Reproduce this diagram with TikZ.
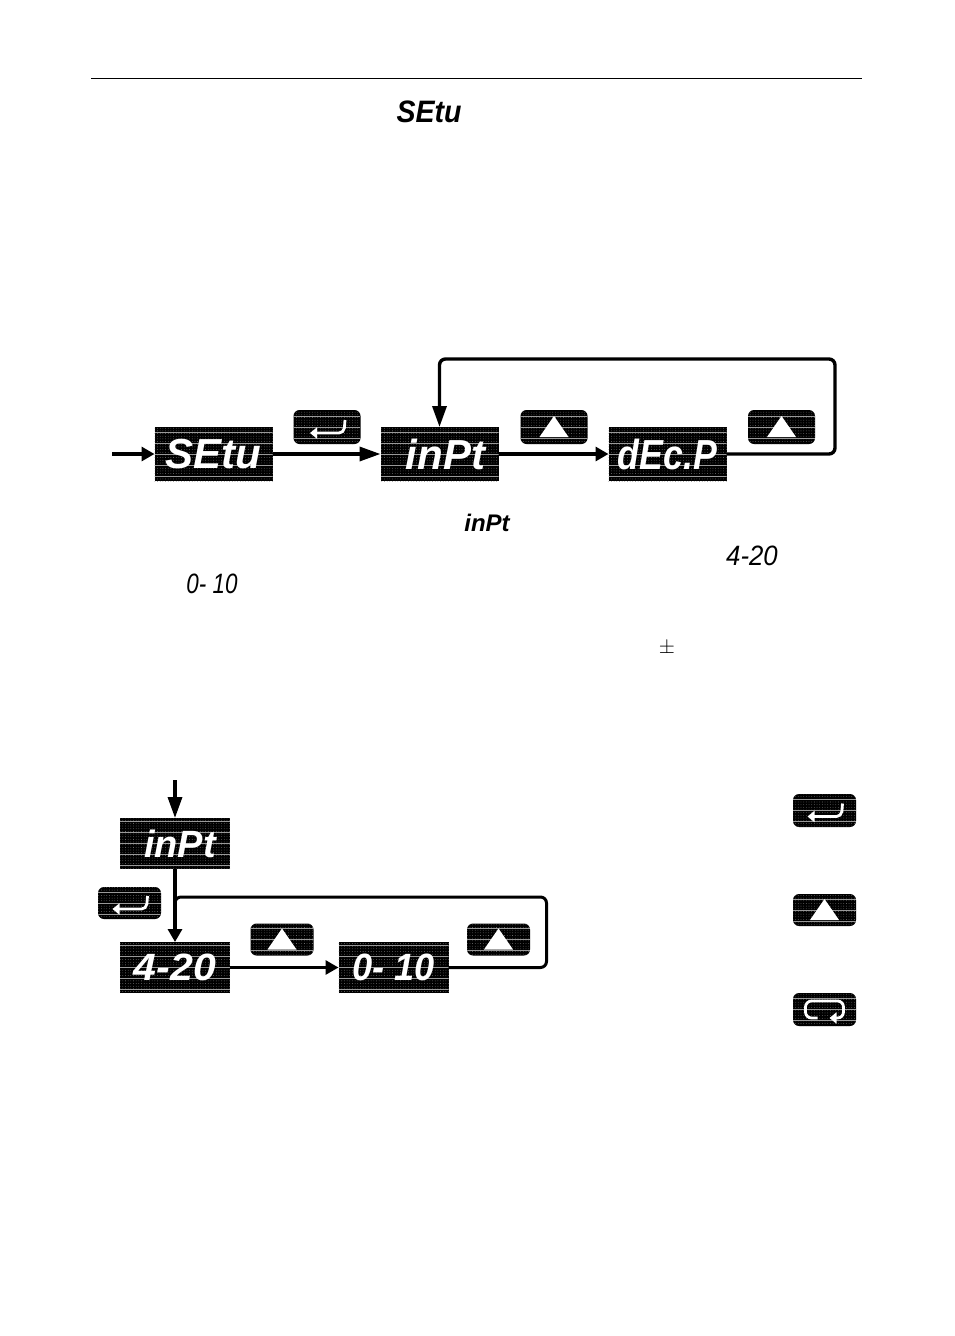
\documentclass[tikz,border=0pt]{standalone}
\usepackage{fontspec}
\usepackage{tikz}
\usetikzlibrary{positioning}
\usetikzlibrary{arrows.meta}
\usetikzlibrary{patterns.meta}
\newfontfamily\ledfont{Liberation Sans Bold Italic}
\newfontfamily\ledthin{Liberation Sans Italic}
% dots and pale rows of the panels
\newcommand{\ledtexture}{
    \fill[sharp corners,pattern={Dots[radius=0.4pt,distance=2.67pt]},pattern color=white!50!black] (path picture bounding box.south west) rectangle (path picture bounding box.north east);
    \foreach \i in {-2,-1,0,1,2}
        \draw[white!60!black,line width=0.7pt] ([yshift=\i*11pt]path picture bounding box.west) -- ([yshift=\i*11pt]path picture bounding box.east);
}
\tikzstyle{display} = [rectangle, fill=black, text=white, inner sep=0pt, outer sep=0pt, minimum width=118pt, minimum height=54pt, font=\ledfont\fontsize{42}{42}\selectfont, path picture={\ledtexture}]
\tikzstyle{displaysmall} = [display, minimum width=110pt, minimum height=51pt, font=\ledfont\fontsize{38}{38}\selectfont]
\tikzstyle{keybase} = [rectangle, rounded corners=6pt, fill=black, inner sep=0pt, outer sep=0pt, minimum width=67pt, minimum height=34pt]
\tikzstyle{keyenter} = [keybase, path picture={\ledtexture
    \draw[white,line width=2.8pt,-{Triangle[length=7pt,width=11pt]},rounded corners=5pt] ([shift={(18pt,7pt)}]path picture bounding box.center) -- ([shift={(17pt,-6pt)}]path picture bounding box.center) -- ([shift={(-17pt,-6pt)}]path picture bounding box.center);}]
\tikzstyle{keyup} = [keybase, path picture={\ledtexture
    \fill[white,sharp corners] ([shift={(0pt,11pt)}]path picture bounding box.center) -- ([shift={(14.5pt,-10pt)}]path picture bounding box.center) -- ([shift={(-14.5pt,-10pt)}]path picture bounding box.center) -- cycle;}]
\tikzstyle{keyloop} = [keybase, path picture={\ledtexture
    \draw[white,line width=2.8pt,-{Triangle[length=7pt,width=11pt]},rounded corners=6pt] ([shift={(-7pt,-8.5pt)}]path picture bounding box.center) -- ([shift={(-19pt,-8.5pt)}]path picture bounding box.center) -- ([shift={(-19pt,8.5pt)}]path picture bounding box.center) -- ([shift={(19pt,8.5pt)}]path picture bounding box.center) -- ([shift={(19pt,-8.5pt)}]path picture bounding box.center) -- ([shift={(5pt,-8.5pt)}]path picture bounding box.center);}]
\tikzstyle{inline} = [inner sep=0pt, outer sep=0pt, text=black]
\tikzstyle{arrow} = [line width=3.4pt,-{Triangle[length=21pt,width=14pt]}]
\tikzstyle{shortarrow} = [line width=3.2pt,-{Triangle[length=13pt,width=14pt]}]
\tikzstyle{backline} = [line width=3pt,rounded corners=6pt]
\begin{document}
\begin{tikzpicture}[x=1pt,y=-1pt]
    \useasboundingbox (0,0) rectangle (954,1336);

    \coordinate (ruleleft) at (91,78);
    \coordinate (ruleright) at (862,78);
    \draw[line width=1pt] (ruleleft) -- (ruleright);

    \node (setu_word) [inline, font=\ledfont\fontsize{31}{31}\selectfont] at (429,112) {\scalebox{0.92}[1]{SEtu}};
    \node (inpt_word) [inline, font=\ledfont\fontsize{24}{24}\selectfont] at (487,523) {inPt};
    \node (range_word) [inline, font=\ledthin\fontsize{28}{28}\selectfont] at (752,556) {\scalebox{0.92}[1]{4-20}};
    \node (volt_word) [inline, font=\ledthin\fontsize{28}{28}\selectfont] at (212,584) {\scalebox{0.8}[1]{0- 10}};
    \node (pm_word) [inline, font=\fontsize{21}{21}\selectfont] at (667,648) {$\pm$};

    % upper row
    \node (setu) [display] at (213.5,454) {SEtu};
    \node (inpt) [display, right=108pt of setu] {\hspace{12pt}inPt};
    \node (decp) [display, right=110pt of inpt] {\scalebox{0.85}[1]{dEc.P}};
    \node (key_enter) [keyenter] at (327,427) {};
    \node (key_up) [keyup] at (554,427) {};
    \node (key_back) [keyup] at (781.5,427) {};

    \coordinate (entry) at (112,454);
    \coordinate (loop_top) at (835,359);
    \draw [shortarrow] (entry) -- (setu);
    \draw [arrow] (setu) -- (inpt);
    \draw [shortarrow] (inpt) -- (decp);
    \draw [arrow, rounded corners=6pt] (decp) -| (loop_top) -| (inpt);

    % lower row
    \node (input) [displaysmall] at (175,843.5) {\hspace{10pt}inPt};
    \node (range) [displaysmall] at (175,967.5) {\scalebox{1.08}[1]{4-20}};
    \node (volt) [displaysmall, right=108.5pt of range] {\scalebox{0.95}[1]{0- 10}};
    \node (key_next) [keyenter, minimum width=63pt, minimum height=32pt] at (129.5,903) {};
    \node (key_low) [keyup, minimum width=63pt, minimum height=32pt] at (282,939.5) {};
    \node (key_high) [keyup, minimum width=63pt, minimum height=32pt] at (498.5,939.5) {};

    \coordinate (start) at (175,780);
    \coordinate (loop_low) at (546.5,897);
    \coordinate (merge) at (175,917);
    \draw [arrow] (start) -- (input);
    \draw [shortarrow] (input) -- (range);
    \draw [shortarrow, line width=3pt] (range) -- (volt);
    \draw [backline] (volt) -| (loop_low) -- (loop_low -| merge) -- (merge);

    % keys on the right
    \node (side_enter) [keyenter, minimum width=63pt, minimum height=33pt] at (824.5,810.5) {};
    \node (side_up) [keyup, minimum width=63pt, minimum height=32pt] at (824.5,910) {};
    \node (side_loop) [keyloop, minimum width=63pt, minimum height=33pt] at (824.5,1009.5) {};
\end{tikzpicture}
\end{document}
